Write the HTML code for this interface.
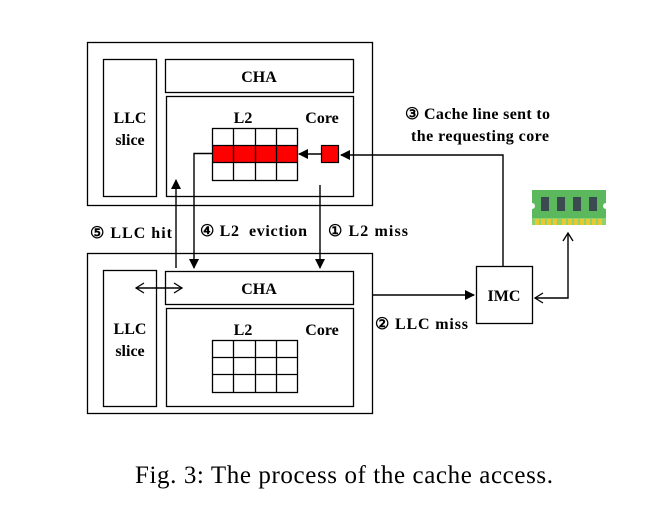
<!DOCTYPE html>
<html><head><style>
body{margin:0;background:#fff}
svg{display:block}
text{font-family:"Liberation Serif",serif;font-weight:bold;font-size:16px;fill:#000}
</style></head><body>
<svg width="646" height="518" viewBox="0 0 646 518" xmlns="http://www.w3.org/2000/svg">
<defs>
<marker id="a" markerWidth="10" markerHeight="10" refX="9" refY="5" orient="auto" markerUnits="userSpaceOnUse"><path d="M0,0 L10,5 L0,10 z" fill="#000"/></marker>
<marker id="o" markerWidth="10" markerHeight="12" refX="9" refY="6" orient="auto" markerUnits="userSpaceOnUse"><path d="M1,1 L9,6 L1,11" fill="none" stroke="#000" stroke-width="1.3"/></marker>
<marker id="os" markerWidth="10" markerHeight="12" refX="1" refY="6" orient="auto" markerUnits="userSpaceOnUse"><path d="M9,1 L1,6 L9,11" fill="none" stroke="#000" stroke-width="1.3"/></marker>
</defs>
<g fill="none" stroke="#000" stroke-width="1.3">
<rect x="87.5" y="42.5" width="285" height="163"/>
<rect x="103.5" y="59.5" width="53" height="137"/>
<rect x="165.5" y="59.5" width="188" height="33"/>
<rect x="166.5" y="96.5" width="187" height="100"/>
<rect x="87.5" y="253.5" width="285" height="160"/>
<rect x="103.5" y="270.5" width="53" height="136"/>
<rect x="165.5" y="271.5" width="188" height="33"/>
<rect x="166.5" y="308.5" width="187" height="98"/>
<rect x="476.5" y="266.5" width="56" height="57"/>
</g>
<rect x="212" y="145" width="85" height="17" fill="#f00"/>
<rect x="321.5" y="145.5" width="17" height="17" fill="#f00" stroke="#000" stroke-width="1.2"/>
<g stroke="#000" stroke-width="1.3" fill="none">
<rect x="212.5" y="128.5" width="85" height="52"/>
<line x1="212" y1="145.5" x2="298" y2="145.5"/><line x1="212" y1="162.5" x2="298" y2="162.5"/>
<line x1="233.5" y1="128" x2="233.5" y2="181"/><line x1="255.5" y1="128" x2="255.5" y2="181"/><line x1="276.5" y1="128" x2="276.5" y2="181"/>
<rect x="212.5" y="340.5" width="85" height="52"/>
<line x1="212" y1="357.5" x2="298" y2="357.5"/><line x1="212" y1="374.5" x2="298" y2="374.5"/>
<line x1="233.5" y1="340" x2="233.5" y2="393"/><line x1="255.5" y1="340" x2="255.5" y2="393"/><line x1="276.5" y1="340" x2="276.5" y2="393"/>
</g>
<g stroke="#000" stroke-width="1.4" fill="none">
<line x1="321" y1="154" x2="299" y2="154" marker-end="url(#a)"/>
<polyline points="503,266 503,155 341,155" marker-end="url(#a)"/>
<line x1="176" y1="268" x2="176" y2="180" marker-end="url(#a)"/>
<polyline points="212,153.5 194,153.5 194,268" marker-end="url(#a)"/>
<line x1="320" y1="185" x2="320" y2="268" marker-end="url(#a)"/>
<line x1="372" y1="295" x2="474" y2="295" marker-end="url(#a)"/>
<line x1="136" y1="288" x2="182" y2="288" marker-start="url(#os)" marker-end="url(#o)"/>
<polyline points="535,298 568,298 568,233" marker-start="url(#os)" marker-end="url(#o)"/>
</g>
<path d="M532,190 H606 V203 a3,3 0 0 0 0,6 V218 H532 V209 a3,3 0 0 0 0,-6 Z" fill="#5cb85c"/>
<rect x="532" y="218" width="74" height="7" fill="#8fd16a"/>
<g fill="#e9c830"><rect x="535" y="219" width="4" height="6"/><rect x="541" y="219" width="4" height="6"/><rect x="547" y="219" width="4" height="6"/><rect x="553" y="219" width="4" height="6"/><rect x="562" y="219" width="4" height="6"/><rect x="568" y="219" width="4" height="6"/><rect x="574" y="219" width="4" height="6"/><rect x="580" y="219" width="4" height="6"/><rect x="586" y="219" width="4" height="6"/><rect x="592" y="219" width="4" height="6"/><rect x="598" y="219" width="4" height="6"/></g>
<g fill="#3b4a50"><rect x="541" y="197" width="8" height="14"/><rect x="557" y="197" width="8" height="14"/><rect x="573" y="197" width="8" height="14"/><rect x="589" y="197" width="8" height="14"/></g>
<text x="259" y="82" text-anchor="middle">CHA</text>
<text x="130" y="123" text-anchor="middle">LLC</text>
<text x="130" y="145" text-anchor="middle">slice</text>
<text x="243" y="123" text-anchor="middle">L2</text>
<text x="322" y="123" text-anchor="middle">Core</text>
<text x="259" y="294" text-anchor="middle">CHA</text>
<text x="130" y="334" text-anchor="middle">LLC</text>
<text x="130" y="356" text-anchor="middle">slice</text>
<text x="243" y="335" text-anchor="middle">L2</text>
<text x="322" y="335" text-anchor="middle">Core</text>
<text x="504" y="301" text-anchor="middle">IMC</text>
<text x="90" y="238" textLength="82">⑤ LLC hit</text>
<text x="200" y="236" textLength="107" xml:space="preserve">④ L2  eviction</text>
<text x="328" y="236" textLength="80">① L2 miss</text>
<text x="405" y="119" textLength="145">③ Cache line sent to</text>
<text x="411" y="141" textLength="138">the requesting core</text>
<text x="375" y="329" textLength="93">② LLC miss</text>
<text x="344" y="483" text-anchor="middle" textLength="418" style="font-weight:normal;font-size:25px">Fig. 3: The process of the cache access.</text>
</svg>
</body></html>
